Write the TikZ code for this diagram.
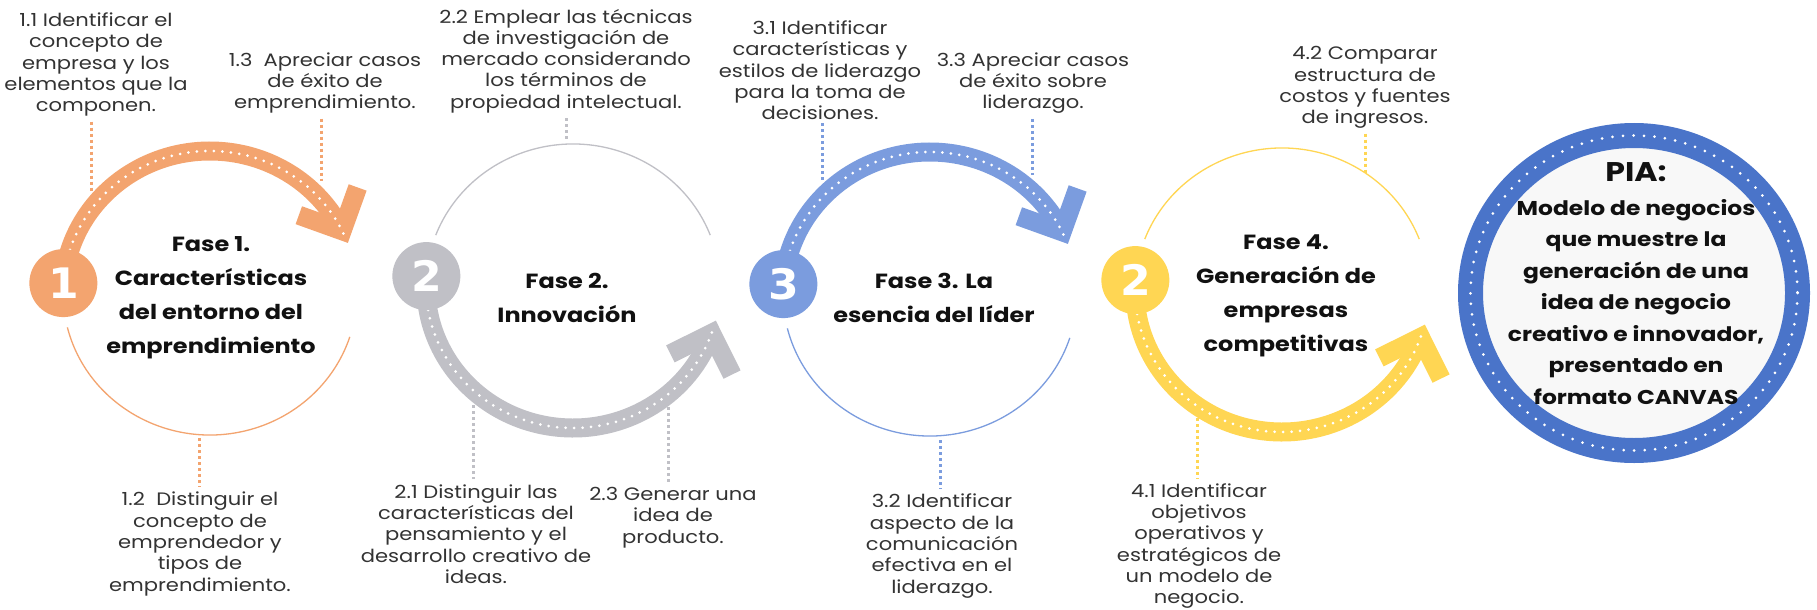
\documentclass[tikz,border=0pt]{standalone}
\usepackage{fontspec}
\setmainfont{Poppins}[FakeStretch=1.17]
\newfontfamily\digitfont{DejaVu Sans}[FakeStretch=1.05]
\usetikzlibrary{calc}
\definecolor{corange}{HTML}{F3A46F}
\definecolor{cgrey}{HTML}{C0C0C6}
\definecolor{cblue}{HTML}{7B9CDE}
\definecolor{cyellow}{HTML}{FFD653}
\definecolor{cpia}{HTML}{4A74C9}
\definecolor{cpiafill}{HTML}{F8F8F8}
\definecolor{ctext}{HTML}{333333}
\definecolor{cbold}{HTML}{111111}
\begin{document}
\begin{tikzpicture}[x=1pt,y=-1pt,
  lbl/.style={align=center, inner sep=0pt, text=ctext, font=\fontsize{18}{21.3}\selectfont},
  fase/.style={align=center, inner sep=0pt, text=cbold, font=\fontsize{20.5}{34}\selectfont\bfseries},
  band/.style={line width=19pt},
  dots/.style={white, line width=3pt, line cap=round, dash pattern=on 0pt off 8.5pt},
  thin/.style={line width=1.3pt},
  leader/.style={line width=3pt, dash pattern=on 3pt off 3pt},
  badge/.style={circle, minimum size=68pt, inner sep=0pt, text=white, font=\digitfont\fontsize{42}{42}\selectfont\bfseries},
]
\useasboundingbox (0,0) rectangle (1817,610);
\fill[white] (0,0) rectangle (1817,610);

% ---------- circle 1 ----------
\coordinate (c1) at (210,293);
\draw[thin, corange] (c1) ++(166:147 and 142) arc[start angle=166, end angle=18, x radius=147, y radius=142];
\draw[band, corange] (c1) ++(184:147 and 142) arc[start angle=184, end angle=334, x radius=147, y radius=142];
\coordinate (e1) at ($(c1)+(334:147 and 142)$);
\coordinate (t1) at ($(c1)+(337:147 and 142)$);
\draw[band, corange] ($(e1)!46pt!135:(t1)$) -- (e1) -- ($(e1)!46pt!-135:(t1)$);
\draw[dots] (c1) ++(184:147 and 142) arc[start angle=184, end angle=334, x radius=147, y radius=142] -- ($(e1)!9pt!(t1)$);
\node[badge, fill=corange] (b1) at ($(c1)+(184:147 and 142)$) {1};
\node[fase] (f1) at (211,298) {Fase 1.\\Características\\del entorno del\\emprendimiento};

% ---------- circle 2 ----------
\coordinate (c2) at (573,286);
\draw[thin, cgrey] (c2) ++(201:147 and 142) arc[start angle=201, end angle=339, x radius=147, y radius=142];
\draw[band, cgrey] (c2) ++(184:147 and 142) arc[start angle=184, end angle=19.5, x radius=147, y radius=142];
\coordinate (e2) at ($(c2)+(19.5:147 and 142)$);
\coordinate (t2) at ($(c2)+(16.5:147 and 142)$);
\draw[band, cgrey] ($(e2)!46pt!135:(t2)$) -- (e2) -- ($(e2)!46pt!-135:(t2)$);
\draw[dots] (c2) ++(184:147 and 142) arc[start angle=184, end angle=19.5, x radius=147, y radius=142] -- ($(e2)!9pt!(t2)$);
\node[badge, fill=cgrey] (b2) at ($(c2)+(184:147 and 142)$) {2};
\node[fase] (f2) at (567,298) {Fase 2.\\Innovación};

% ---------- circle 3 ----------
\coordinate (c3) at (930,294);
\draw[thin, cblue] (c3) ++(166:147 and 142) arc[start angle=166, end angle=18, x radius=147, y radius=142];
\draw[band, cblue] (c3) ++(184:147 and 142) arc[start angle=184, end angle=334, x radius=147, y radius=142];
\coordinate (e3) at ($(c3)+(334:147 and 142)$);
\coordinate (t3) at ($(c3)+(337:147 and 142)$);
\draw[band, cblue] ($(e3)!46pt!135:(t3)$) -- (e3) -- ($(e3)!46pt!-135:(t3)$);
\draw[dots] (c3) ++(184:147 and 142) arc[start angle=184, end angle=334, x radius=147, y radius=142] -- ($(e3)!9pt!(t3)$);
\node[badge, fill=cblue] (b3) at ($(c3)+(184:147 and 142)$) {3};
\node[fase] (f3) at (934,298) {Fase 3. La\\esencia del líder};

% ---------- circle 4 ----------
\coordinate (c4) at (1282,290);
\draw[thin, cyellow] (c4) ++(201:147 and 142) arc[start angle=201, end angle=339, x radius=147, y radius=142];
\draw[band, cyellow] (c4) ++(184:147 and 142) arc[start angle=184, end angle=19.5, x radius=147, y radius=142];
\coordinate (e4) at ($(c4)+(19.5:147 and 142)$);
\coordinate (t4) at ($(c4)+(16.5:147 and 142)$);
\draw[band, cyellow] ($(e4)!46pt!135:(t4)$) -- (e4) -- ($(e4)!46pt!-135:(t4)$);
\draw[dots] (c4) ++(184:147 and 142) arc[start angle=184, end angle=19.5, x radius=147, y radius=142] -- ($(e4)!9pt!(t4)$);
\node[badge, fill=cyellow] (b4) at ($(c4)+(184:147 and 142)$) {2};
\node[fase] (f4) at (1286,296) {Fase 4.\\Generación de\\empresas\\competitivas};

% ---------- PIA ----------
\coordinate (cp) at (1634,293);
\fill[cpiafill] (cp) ellipse[x radius=164, y radius=158];
\draw[cpia, line width=25pt] (cp) ellipse[x radius=163.5, y radius=157.5];
\draw[white, line width=3pt, line cap=round, dash pattern=on 0pt off 10.5pt] (cp) ellipse[x radius=163.5, y radius=157.5];
\node[inner sep=0pt, text=cbold, font=\fontsize{27}{27}\selectfont\bfseries] (piat) at (1636,172) {PIA:};
\node[align=center, inner sep=0pt, text=cbold, font=\fontsize{20}{31.5}\selectfont\bfseries] (piab) at (1636,302)
  {Modelo de negocios\\que muestre la\\generación de una\\idea de negocio\\creativo e innovador,\\presentado en\\formato CANVAS};

% ---------- labels ----------
\node[lbl] (l11) at (96,64.5) {1.1 Identificar el\\concepto de\\empresa y los\\elementos que la\\componen.};
\node[lbl] (l13) at (325,83) {1.3~~Apreciar casos\\de éxito de\\emprendimiento.};
\node[lbl] (l12) at (200,544) {1.2~~Distinguir el\\concepto de\\emprendedor y\\tipos de\\emprendimiento.};
\node[lbl] (l22) at (566,61) {2.2 Emplear las técnicas\\de investigación de\\mercado considerando\\los términos de\\propiedad intelectual.};
\node[lbl] (l21) at (476,534) {2.1 Distinguir las\\características del\\pensamiento y el\\desarrollo creativo de\\ideas.};
\node[lbl] (l23) at (673,517.5) {2.3 Generar una\\idea de\\producto.};
\node[lbl] (l31) at (820,70.5) {3.1 Identificar\\características y\\estilos de liderazgo\\para la toma de\\decisiones.};
\node[lbl] (l33) at (1033,83) {3.3 Apreciar casos\\de éxito sobre\\liderazgo.};
\node[lbl] (l32) at (942,546) {3.2 Identificar\\aspecto de la\\comunicación\\efectiva en el\\liderazgo.};
\node[lbl] (l42) at (1365,87.5) {4.2 Comparar\\estructura de\\costos y fuentes\\de ingresos.};
\node[lbl] (l41) at (1199,546) {4.1 Identificar\\objetivos\\operativos y\\estratégicos de\\un modelo de\\negocio.};

% ---------- leaders ----------
\coordinate (p11) at (91,191);
\coordinate (p13) at (321,181);
\coordinate (p12) at (199,438);
\coordinate (p22) at (566,142);
\coordinate (p21) at (473,405);
\coordinate (p23) at (668,401);
\coordinate (p31) at (822,183);
\coordinate (p33) at (1032,175);
\coordinate (p32) at (940,440);
\coordinate (p42) at (1365,173);
\coordinate (p41) at (1197,418);
\draw[leader, corange, shorten <=5pt] (p11 |- l11.south) -- (p11);
\draw[leader, corange, shorten <=5pt] (p13 |- l13.south) -- (p13);
\draw[leader, corange, shorten >=5pt] (p12) -- (p12 |- l12.north);
\draw[leader, cgrey, shorten <=5pt] (p22 |- l22.south) -- (p22);
\draw[leader, cgrey, shorten >=5pt] (p21) -- (p21 |- l21.north);
\draw[leader, cgrey, shorten >=5pt] (p23) -- (p23 |- l23.north);
\draw[leader, cblue, shorten <=3pt] (p31 |- l31.south) -- (p31);
\draw[leader, cblue, shorten <=5pt] (p33 |- l33.south) -- (p33);
\draw[leader, cblue, shorten >=5pt] (p32) -- (p32 |- l32.north);
\draw[leader, cyellow, shorten <=5pt] (p42 |- l42.south) -- (p42);
\draw[leader, cyellow, shorten >=5pt] (p41) -- (p41 |- l41.north);
\end{tikzpicture}
\end{document}
